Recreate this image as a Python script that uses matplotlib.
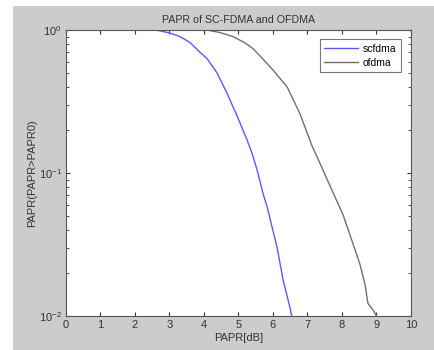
import numpy as np
import matplotlib
matplotlib.use("Agg")
import matplotlib.pyplot as plt
from matplotlib.patches import Rectangle
from matplotlib.ticker import LogLocator, NullFormatter

plt.rcParams['font.family'] = ['Liberation Sans', 'DejaVu Sans']

# CCDF of PAPR
scfdma_x = [1.9, 2.6, 3.01, 3.3, 3.59, 3.88, 4.09, 4.38, 4.67, 4.96, 5.25,
            5.39, 5.54, 5.71, 5.83, 6.12, 6.29, 6.49, 6.55]
scfdma_y = [1.0, 1.0, 0.953, 0.9, 0.82, 0.70, 0.63, 0.50, 0.36, 0.25, 0.17,
            0.138, 0.105, 0.072, 0.058, 0.030, 0.018, 0.0115, 0.0098]

ofdma_x = [4.0, 4.09, 4.46, 4.84, 5.2, 5.42, 5.62, 6.0, 6.41, 6.78, 7.13,
           7.36, 7.74, 8.03, 8.23, 8.52, 8.67, 8.75, 8.90, 9.02]
ofdma_y = [1.0, 1.0, 0.96, 0.9, 0.81, 0.74, 0.66, 0.525, 0.40, 0.26, 0.155,
           0.117, 0.073, 0.051, 0.037, 0.023, 0.0165, 0.0123, 0.011, 0.0098]

xticks = list(range(0, 11))

fig = plt.figure(figsize=(4.35, 3.5), dpi=100, facecolor='white')
# gray MATLAB-style figure background with a thin white margin
bg = Rectangle((13 / 435, 0), 1, 1 - 6 / 350, transform=fig.transFigure,
               facecolor='#cccccc', edgecolor='none', zorder=-10)
fig.add_artist(bg)

ax = fig.add_axes([66 / 435, 34 / 350, 345 / 435, 286 / 350])
ax.set_zorder(5)
ax.plot(scfdma_x, scfdma_y, color='#5a5aff', lw=1.0, label='scfdma')
ax.plot(ofdma_x, ofdma_y, color='#707070', lw=1.0, label='ofdma')

ax.set_yscale('log')
ax.set_xlim(0, 10)
ax.set_ylim(1e-2, 1)
ax.set_xticks(xticks)
ax.yaxis.set_minor_locator(LogLocator(base=10, subs=np.arange(2, 10)))
ax.yaxis.set_minor_formatter(NullFormatter())

ax.tick_params(which='both', direction='in', top=True, right=True, labelsize=8,
               colors='#333333', pad=3)
ax.tick_params(which='major', length=3)
ax.tick_params(which='minor', length=2)
for s in ax.spines.values():
    s.set_color('#555555')
    s.set_linewidth(0.8)

ax.set_title('PAPR of SC-FDMA and OFDMA', fontsize=7.7, color='#333333', pad=5)
ax.set_xlabel('PAPR[dB]', fontsize=8, color='#333333', labelpad=2)
ax.set_ylabel('PAPR(PAPR>PAPR0)', fontsize=8, color='#333333', labelpad=1)

leg = ax.legend(loc='upper right', fontsize=7.5, frameon=True, fancybox=False,
                handlelength=3.2, handletextpad=0.5, borderpad=0.4,
                labelspacing=0.4, bbox_to_anchor=(0.985, 0.985))
leg.get_frame().set_edgecolor('#555555')
leg.get_frame().set_linewidth(0.8)

fig.savefig('out.png', dpi=100, facecolor=fig.get_facecolor())
